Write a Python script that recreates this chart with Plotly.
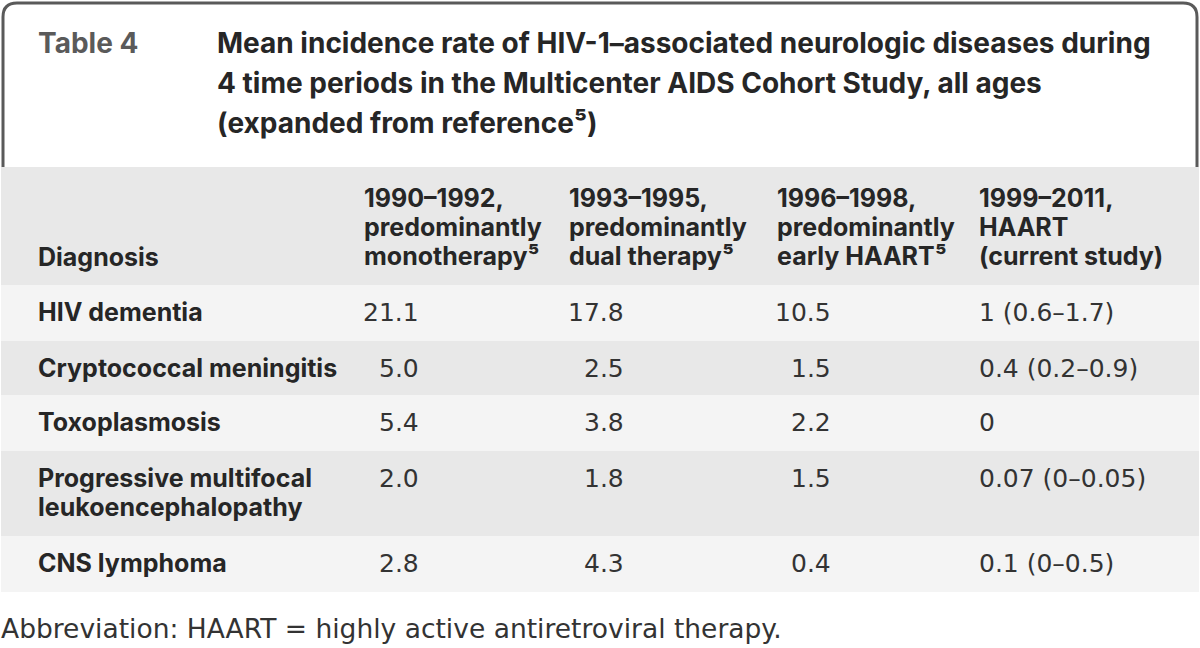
import plotly.graph_objects as go

# ---------------- data ----------------
table_label = "Table 4"
title_lines = [
    "Mean incidence rate of HIV-1–associated neurologic diseases during",
    "4 time periods in the Multicenter AIDS Cohort Study, all ages",
    "(expanded from reference⁵)",
]
header_first = "Diagnosis"
period_headers = [
    ["1990–1992,", "predominantly", "monotherapy⁵"],
    ["1993–1995,", "predominantly", "dual therapy⁵"],
    ["1996–1998,", "predominantly", "early HAART⁵"],
    ["1999–2011,", "HAART", "(current study)"],
]
diagnoses = [
    ["HIV dementia"],
    ["Cryptococcal meningitis"],
    ["Toxoplasmosis"],
    ["Progressive multifocal", "leukoencephalopathy"],
    ["CNS lymphoma"],
]
rate_1990_1992 = [21.1, 5.0, 5.4, 2.0, 2.8]
rate_1993_1995 = [17.8, 2.5, 3.8, 1.8, 4.3]
rate_1996_1998 = [10.5, 1.5, 2.2, 1.5, 0.4]
rate_1999_2011 = ["1 (0.6–1.7)", "0.4 (0.2–0.9)", "0", "0.07 (0–0.05)", "0.1 (0–0.5)"]
footnote = "Abbreviation: HAART = highly active antiretroviral therapy."

# ---------------- layout constants ----------------
W, H = 1200, 648
BOLD_FONT = "Inter"
REG_FONT = "DejaVu Sans"
DARK = "#262626"
GRAY_BAND = "#e8e8e8"
LIGHT_BAND = "#f4f4f4"
header_top, header_bottom = 167, 285
row_edges = [285, 341, 395, 451, 536, 592]
first_col_x = 37
num_right_x = [420, 625, 832]
header_left_x = [363, 568, 776, 978]
last_col_x = 978
line_gap = 29

fig = go.Figure()
fig.add_trace(go.Scatter(x=[0, W], y=[0, H], mode="markers",
                         marker=dict(opacity=0), hoverinfo="skip", showlegend=False))

shapes = []
annotations = []

def ann(x, y, text, size, color=DARK, xanchor="left", yanchor="middle", bold=False, family=None):
    if bold:
        text = "<b>" + text + "</b>"
    fam = family or (BOLD_FONT if bold else REG_FONT)
    annotations.append(dict(x=x, y=y, xref="x", yref="y", text=text, showarrow=False,
                            xanchor=xanchor, yanchor=yanchor,
                            align="left" if xanchor == "left" else "right",
                            borderpad=0,
                            font=dict(family=fam, size=size, color=color)))

# title border (rounded top)
r = 14
path = (f"M 3 {header_top} L 3 {3 + r} Q 3 3 {3 + r} 3 "
        f"L {W - 3 - r} 3 Q {W - 3} 3 {W - 3} {3 + r} L {W - 3} {header_top}")
shapes.append(dict(type="path", path=path, xref="x", yref="y",
                   line=dict(color="#5a5a5a", width=3)))

# header band
shapes.append(dict(type="rect", xref="x", yref="y", x0=1, x1=W - 1, y0=header_top, y1=header_bottom,
                   fillcolor=GRAY_BAND, line=dict(width=0), layer="below"))
# row bands
for i in range(len(diagnoses)):
    shapes.append(dict(type="rect", xref="x", yref="y", x0=1, x1=W - 1,
                       y0=row_edges[i], y1=row_edges[i + 1],
                       fillcolor=LIGHT_BAND if i % 2 == 0 else GRAY_BAND,
                       line=dict(width=0), layer="below"))

# titles
ann(first_col_x, 43, table_label, 28, color="#5a5a5a", bold=True)
for k, t in enumerate(title_lines):
    ann(216, 43 + 40 * k, t, 28, bold=True)

# header
ann(first_col_x, 257, header_first, 25, bold=True)
for j, lines in enumerate(period_headers):
    for k, t in enumerate(lines):
        ann(header_left_x[j], 198 + line_gap * k, t, 25, bold=True)

# body
numeric_cols = [rate_1990_1992, rate_1993_1995, rate_1996_1998]
for i, dlines in enumerate(diagnoses):
    top = row_edges[i]
    yc = top + 27
    for k, t in enumerate(dlines):
        ann(first_col_x, yc + line_gap * k, t, 25, bold=True)
    for j, col in enumerate(numeric_cols):
        ann(num_right_x[j], yc, f"{col[i]:.1f}", 25, color="#333333", xanchor="right")
    ann(last_col_x, yc, rate_1999_2011[i], 25, color="#333333")

ann(0, 628, footnote, 26.5, color="#333333")

fig.update_layout(
    width=W, height=H, margin=dict(l=0, r=0, t=0, b=0),
    paper_bgcolor="white", plot_bgcolor="white",
    xaxis=dict(range=[0, W], visible=False, fixedrange=True),
    yaxis=dict(range=[H, 0], visible=False, fixedrange=True),
    shapes=shapes, annotations=annotations, showlegend=False,
)
fig.write_html("out.html", config={"displayModeBar": False},
               post_script="document.body.style.margin='0';document.body.style.overflow='hidden';")
